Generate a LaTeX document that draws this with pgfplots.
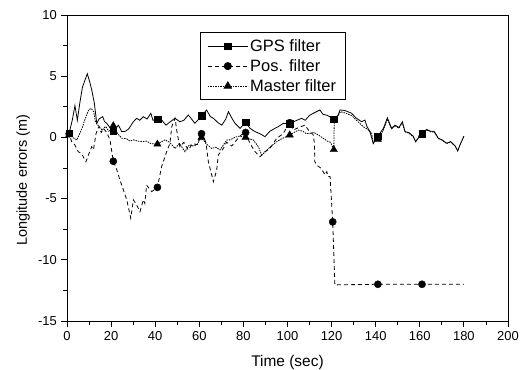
\documentclass[border=0pt]{standalone}
\usepackage{pgfplots}
\pgfplotsset{compat=1.18}
\usepackage{fontspec}
\setmainfont{Liberation Sans}
\begin{document}
\begin{tikzpicture}
\begin{axis}[
  name=ax,
  width=441bp, height=306bp, scale only axis,
  xmin=0, xmax=200, ymin=-15, ymax=10,
  xtick={0,20,...,200},
  xticklabels={0,20,40,60,80,100,120,140,160,180,200},
  ytick={-15,-10,...,10},
  yticklabels={-15,-10,-5,0,5,10},
  minor x tick num=1, minor y tick num=1,
  tick pos=left, tick align=outside,
  major tick length=6bp, minor tick length=4bp,
  every tick/.style={black, line width=0.9bp},
  axis line style={line width=1bp},
  ticklabel style={font=\fontsize{13}{15}\selectfont, inner sep=0pt},
  xticklabel style={anchor=north, yshift=-4bp},
  yticklabel style={anchor=east, xshift=-4bp},
  xlabel={Time (sec)},
  ylabel={Longitude errors (m)},
  every axis x label/.style={font=\fontsize{15.5}{18}\selectfont, at={(axis description cs:0.5,0)}, anchor=base, yshift=-45bp, inner sep=0pt},
  every axis y label/.style={font=\fontsize{14.5}{17}\selectfont, at={(axis description cs:0,0.5)}, xshift=-40bp, yshift=-12bp, rotate=90, anchor=base, inner sep=0pt},
  legend style={at={(rel axis cs:0.3016,0.944)}, anchor=north west, draw=black, line width=0.8bp,
    font=\fontsize{16.5}{18}\selectfont, cells={anchor=west}, row sep=2.5bp,
    inner xsep=7bp, inner ysep=5bp},
  legend image code/.code={\draw[mark repeat=2,mark phase=2] plot coordinates {(0bp,0bp) (20bp,0bp) (40bp,0bp)};},
]
\addlegendimage{black, line width=0.8bp, solid, mark=square*, mark size=3.3bp, mark options={solid}}
\addlegendentry{GPS filter}
\addlegendimage{black, line width=0.8bp, dash pattern=on 4bp off 3bp, mark=*, mark size=3.6bp, mark options={solid}}
\addlegendentry{Pos. filter}
\addlegendimage{black, line width=0.8bp, dash pattern=on 1.5bp off 1bp, mark=triangle*, mark size=4.2bp, mark options={solid}}
\addlegendentry{Master filter}

% GPS filter
\addplot[black, line width=0.8bp, solid, forget plot] coordinates {
(0,0.3)(1,0.35)(2.5,1.5)(3.6,2.6)(4.7,1.4)(5.8,2.8)(7,4.1)(8,4.6)(9.2,5.2)(10.2,4.6)
(11.2,3.9)(12.4,2.8)(13.5,1.15)(14.5,1.5)(16.2,1.7)(17,1.3)(18,1.15)(19.5,0.8)(21,0.5)
(23.3,1.0)(24.8,0.47)(26.5,0.5)(28,0.7)(30.1,1.28)(31.6,1.56)(33,1.4)(34.6,1.69)(36.3,1.5)
(38,1.97)(39,1.4)(41,1.5)(43,1.4)(44.9,1.0)(47,1.3)(49,1.56)(51.2,1.28)(53,1.4)(55,1.83)
(56.5,1.5)(58,1.15)(61,1.75)(63.3,2.24)(65,1.7)(66.4,1.56)(68.5,1.2)(70.2,1.0)(72,1.5)
(73.2,2.1)(75,1.5)(76.2,1.15)(78.5,0.74)(81,1.25)(83,0.74)(85.3,0.47)(87.5,0.3)(89.8,0.06)
(92,0.5)(94.3,0.74)(96,0.9)(98.1,1.15)(101,1.1)(103,1.3)(106.4,1.56)(108,1.4)(110,1.8)
(111.7,1.97)(114.7,2.24)(116,1.9)(118,1.8)(121,1.5)(123,1.83)(123.8,2.24)(126,2.2)
(129.1,1.97)(131,1.6)(133.6,1.28)(135.1,1.42)(136,0.9)(137.4,0.47)(138.9,-0.5)(141,0.1)
(143.5,0.74)(145.3,1.6)(147.2,0.74)(148.8,1.0)(150.5,0.8)(152.1,1.28)(153.3,0.47)(155,0.4)
(157,0.1)(158.1,-0.35)(159.5,0.0)(161,0.3)(163.1,0.65)(165,0.5)(166.5,0.5)(168.4,-0.07)
(170,-0.2)(172.2,-0.48)(174,-0.35)(176,-0.7)(177.2,-1.09)(178.5,-0.5)(180,0.1)
};
\addplot[black, only marks, mark=square*, mark size=3.3bp, forget plot] coordinates {
(1,0.35)(21,0.5)(41,1.5)(61,1.75)(81,1.25)(101,1.1)(121,1.5)(141,0.1)(161,0.3)
};

% Pos. filter
\addplot[black, line width=0.8bp, dash pattern=on 4bp off 3bp, forget plot] coordinates {
(0,0.3)(1,0.3)(2.1,-0.35)(3.5,-0.6)(5.1,-1.17)(6.5,-1.3)(8.6,-1.98)(9.7,-1.44)(11.2,-0.76)
(12,-1.0)(13.2,0.33)(14.5,0.9)(15.5,0.4)(16.5,0.74)(18,0.4)(19.5,-0.2)(21,-1.95)(22.5,-2.6)
(24,-3.48)(25.6,-4.3)(27.1,-5.1)(28.9,-6.6)(30.1,-5.1)(31.5,-5.5)(33.1,-6.07)(34.6,-5.1)
(35.3,-5.4)(36.1,-3.9)(38.4,-4.43)(41,-4.08)(42.9,-2.39)(45.2,-1.17)(46.7,-0.48)(47.5,0.87)
(49,1.56)(50,0.3)(51.2,-0.76)(53,-0.4)(55,-1.03)(57,-0.5)(59,-0.6)(61,0.3)(63,-0.4)
(64.1,-1.98)(66.4,-3.62)(67.9,-2.66)(68.6,-1.44)(70.9,-0.9)(72.4,-0.4)(74.7,-0.7)(77,-0.2)
(79,0.2)(81,0.4)(83,-0.5)(85.3,-1.17)(87.5,-1.58)(89.8,-1.17)(92,-0.9)(95.1,-0.07)(98,0.3)
(101,1.2)(102.6,0.6)(105,0.8)(107.9,1.0)(109.5,0.6)(111.7,0.2)(112.2,-0.48)(112.4,-1.98)
(113.2,-2.25)(115,-2.5)(116.2,-2.8)(117,-3.07)(117.8,-2.8)(118.5,-3.2)(119.3,-3.2)
(120.5,-6.9)(121.5,-12.05)(141,-12)(161,-12)(180,-12)
};
\addplot[black, only marks, mark=*, mark size=3.6bp, forget plot] coordinates {
(1,0.3)(21,-1.95)(41,-4.08)(61,0.3)(81,0.4)(101,1.2)(120.5,-6.9)(141,-12)(161,-12)
};

% Master filter
\addplot[black, line width=0.8bp, dash pattern=on 1.5bp off 1bp, forget plot] coordinates {
(0,0.3)(1,0.25)(2.5,0.0)(4.5,-0.2)(5.5,0.2)(6.8,0.74)(8,1.4)(9.8,2.24)(11,2.37)(12.1,2.1)
(12.9,1.28)(14,1.0)(15.9,0.6)(17.5,0.9)(19,0.5)(21,0.95)(23,0.3)(24.9,-0.07)(27,-0.1)
(28.5,-0.3)(30.2,-0.2)(32,-0.3)(34,-0.35)(36,-0.3)(38,-0.5)(41,-0.55)(42.5,-0.4)(44.4,-0.2)
(46.5,-0.4)(49,-0.9)(51,-0.5)(53.5,-1.17)(55.5,-0.6)(57,-0.7)(58.8,-0.62)(61,0.0)(63,-0.5)
(65.6,-0.9)(67.5,-0.8)(69.4,-1.03)(71,-0.6)(72.4,-0.21)(74,-0.2)(76,0.0)(78,0.1)(81,0.0)
(82.5,-0.1)(84.5,-0.21)(86.8,-0.76)(88.3,-1.44)(90,-1.17)(92,-0.8)(95.1,-0.35)(97.5,-0.1)
(101,0.2)(103,0.4)(104.9,0.6)(107,0.5)(108.5,0.3)(110.2,0.33)(112,0.4)(114,0.2)(116.2,-0.07)
(118,-0.3)(119.5,-0.4)(121,-1.0)(121.2,1.4)(123,1.8)(124,2.1)(126,2.0)(129,1.8)(132,1.28)
(134.4,0.87)(136,0.7)(138.2,0.33)(138.9,-0.48)(140.5,0.0)(141,-0.15)(143.5,0.6)(145.3,1.5)
(147.2,0.7)(148.8,0.95)(150.5,0.75)(152.1,1.2)(153.3,0.45)(155,0.35)(157,0.05)(158.1,-0.35)
(159.5,0.0)(161,0.25)(163.1,0.6)(165,0.45)(166.5,0.45)(168.4,-0.1)(170,-0.2)(172.2,-0.5)
(174,-0.35)(176,-0.7)(177.2,-1.1)(178.5,-0.5)(180,0.1)
};
\addplot[black, only marks, mark=triangle*, mark size=4.2bp, forget plot] coordinates {
(1,0.25)(21,0.95)(41,-0.55)(61,0.0)(81,0.0)(101,0.2)(121,-1.0)(141,-0.15)(161,0.25)
};
\end{axis}
\path ([xshift=-67bp,yshift=-49bp]ax.south west) rectangle ([xshift=15bp,yshift=15bp]ax.north east);
\end{tikzpicture}
\end{document}
